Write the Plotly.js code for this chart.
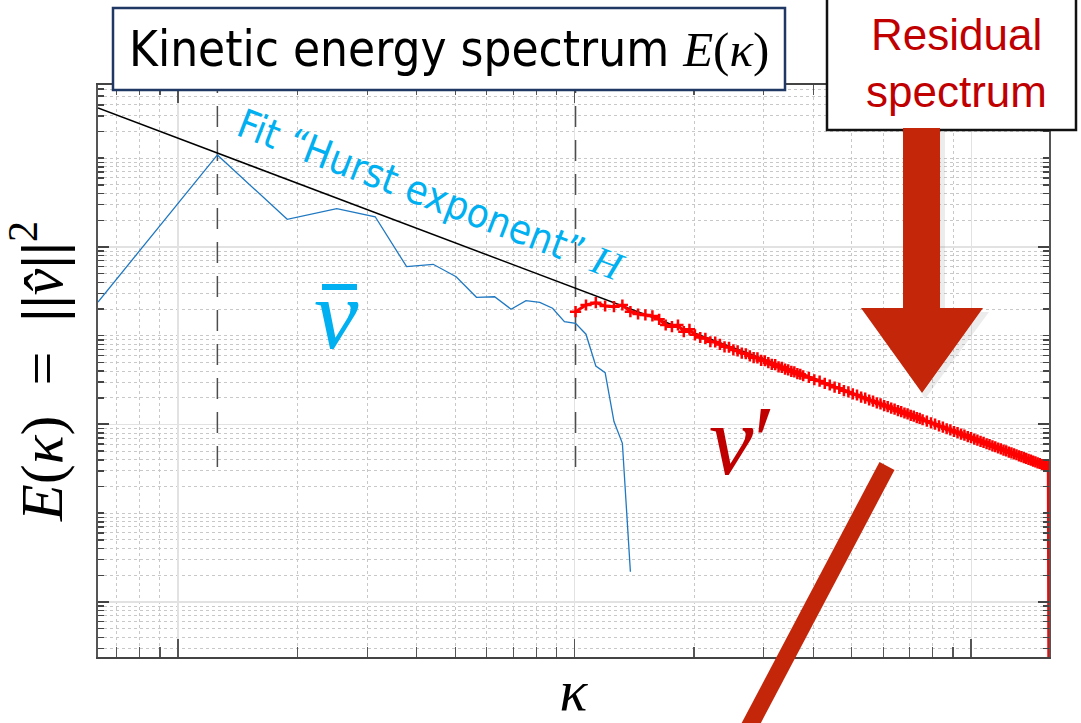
<!DOCTYPE html>
<html><head><meta charset="utf-8">
<script src="https://cdn.plot.ly/plotly-3.0.1.min.js"></script>
<style>html,body{margin:0;padding:0;background:#fff;overflow:hidden}#plot{width:1081px;height:723px}</style>
</head><body><div id="plot"></div>
<script>
// wavenumber step (2*pi/L, L = 10)
const dk = 0.6283185;

// mean-flow spectrum (v-bar): wavenumber index and energy
const meanIndex = [1,2,3,4,5,6,7,8,9,10,11,12,13,14,15,16,17,18,19,20,21,22];
const meanE = [2.40e-5,1.089e-3,2.05e-4,2.70e-4,2.19e-4,6.00e-5,6.38e-5,4.62e-5,2.71e-5,2.75e-5,1.99e-5,2.48e-5,2.38e-5,2.04e-5,1.44e-5,1.38e-5,1.04e-5,4.56e-6,3.84e-6,1.08e-6,6.14e-7,2.19e-8];

// residual spectrum (v'): wavenumber index and log10 of energy
const residIndex = [16,17,18,19,20,21,22,23,24,25,26,27,28,29,30,31,32,33,34,35,36,37,38,39,40,41,42,43,44,45,46,47,48,49,50,51,52,53,54,55,56,57,58,59,60,
62,64,66,68,70,72,74,76,78,80,82,84,86,88,90,92,94,96,98,100,102,104,106,108,110,112,114,116,118,120,
123,126,129,132,135,138,141,144,147,150,153,156,159,162,165,168,171,174,177,180,183,186,189,192,195,198,201,204,207,210,213,216,219,222,225,228,231,234,237,240,243,246,249,250];
const residLog10E = [-4.729,-4.654,-4.628,-4.665,-4.673,-4.654,-4.729,-4.755,-4.766,-4.777,-4.815,-4.879,-4.898,-4.879,-4.954,-4.927,-4.990,-5.020,-5.030,-5.068,-5.071,-5.098,-5.125,-5.130,-5.160,-5.171,-5.196,-5.203,-5.228,-5.247,-5.250,-5.278,-5.282,-5.304,-5.322,-5.326,-5.350,-5.356,-5.377,-5.384,-5.402,-5.407,-5.427,-5.434,-5.451,
-5.470,-5.496,-5.511,-5.538,-5.555,-5.580,-5.593,-5.619,-5.633,-5.656,-5.668,-5.691,-5.704,-5.724,-5.737,-5.756,-5.768,-5.787,-5.798,-5.816,-5.827,-5.845,-5.855,-5.871,-5.881,-5.898,-5.907,-5.923,-5.932,-5.947,
-5.963,-5.982,-5.997,-6.016,-6.029,-6.048,-6.061,-6.079,-6.091,-6.108,-6.121,-6.137,-6.149,-6.164,-6.176,-6.191,-6.201,-6.217,-6.227,-6.241,-6.251,-6.265,-6.275,-6.288,-6.297,-6.311,-6.320,-6.332,-6.341,-6.354,-6.362,-6.374,-6.382,-6.394,-6.402,-6.414,-6.421,-6.433,-6.440,-6.451,-6.458,-6.469,-6.476,-9.5];

// power-law fit ("Hurst exponent")
const fitKappa = [0.6283, 157.08];
const fitE = [3.68e-3, 3.32e-7];

// vertical separators (kappa), drawn from this energy upward
const sepKappa = [1.2566, 10.053];
const sepBottomE = 3.32e-7;
const sepTopE = 0.1;

// texts
const titleText = 'Kinetic energy spectrum ';
const residualLines = ['Residual', 'spectrum'];
const fitLabel = 'Fit “Hurst exponent” ';

const kMean = meanIndex.map(n => n * dk);
const kResid = residIndex.map(n => n * dk);
const eResid = residLog10E.map(v => Math.pow(10, v));

const L = 98, R = 32, T = 85, B = 66, W = 1081 - L - R, H = 723 - T - B;
const px = p => (p - L) / W;
const py = p => (723 - B - p) / H;

const SERIF = 'Liberation Serif, DejaVu Serif, serif';
const NARROW = 'Liberation Sans Narrow, Arial Narrow, DejaVu Sans Condensed, sans-serif';
const SANS = 'Liberation Sans, Arial, sans-serif';
const ARROW = '#C4260A';

const traces = [];
sepKappa.forEach(k => traces.push({
  x: [k, k], y: [sepBottomE, sepTopE], mode: 'lines', type: 'scatter',
  line: {color: '#4d4d4d', width: 1.5, dash: '21px,13px'}, hoverinfo: 'skip', showlegend: false
}));
traces.push({x: kMean, y: meanE, mode: 'lines', type: 'scatter', name: 'mean',
  line: {color: '#1f78c1', width: 1.3}, showlegend: false});
traces.push({x: fitKappa, y: fitE, mode: 'lines', type: 'scatter', name: 'fit',
  line: {color: '#000000', width: 1.5}, showlegend: false});
traces.push({x: kResid, y: eResid, mode: 'lines+markers', type: 'scatter', name: 'residual',
  line: {color: '#ff0000', width: 3},
  marker: {symbol: 'cross-thin', size: 8, color: '#ff0000', line: {color: '#ff0000', width: 2.5}},
  showlegend: false});

function arrowPath() {
  const pts = [[903,128],[940,128],[940,308],[983,308],[922,393],[861,308],[903,308]];
  return 'M' + pts.map(p => px(p[0]).toFixed(4) + ',' + py(p[1]).toFixed(4)).join(' L') + ' Z';
}
function shadowPath() {
  const pts = [[940,132],[945,132],[945,312],[989,312],[925,399],[922,394],[983,308],[940,308]];
  return 'M' + pts.map(p => px(p[0]).toFixed(4) + ',' + py(p[1]).toFixed(4)).join(' L') + ' Z';
}

const shapes = [
  {type: 'rect', xref: 'paper', yref: 'paper', x0: px(113), x1: px(785), y0: py(90), y1: py(8),
   line: {color: '#1F3864', width: 2.5}, fillcolor: '#ffffff', layer: 'above'},
  {type: 'rect', xref: 'paper', yref: 'paper', x0: px(827), x1: px(1076), y0: py(130), y1: py(-6),
   line: {color: '#111111', width: 2.5}, fillcolor: '#ffffff', layer: 'above'},
  {type: 'path', xref: 'paper', yref: 'paper', path: shadowPath(), fillcolor: 'rgba(150,150,150,0.18)',
   line: {width: 0}, layer: 'above'},
  {type: 'path', xref: 'paper', yref: 'paper', path: arrowPath(), fillcolor: ARROW,
   line: {width: 0}, layer: 'above'},
  {type: 'line', xref: 'paper', yref: 'paper', x0: px(887), y0: py(466), x1: px(737), y1: py(750),
   line: {color: ARROW, width: 17}, layer: 'above'},
  {type: 'rect', xref: 'paper', yref: 'paper', x0: px(322), x1: px(357), y0: py(290), y1: py(284),
   line: {width: 0}, fillcolor: '#00B0F0', layer: 'above'}
];

const annotations = [
  {xref: 'paper', yref: 'paper', x: px(127), y: py(50), xanchor: 'left', yanchor: 'middle', showarrow: false,
   text: titleText + '<span style="font-family:Liberation Serif"><i>E</i>(<i>κ</i>)</span>',
   font: {family: NARROW, size: 49, color: '#000'}},
  {xref: 'paper', yref: 'paper', x: px(956), y: py(35), xanchor: 'center', yanchor: 'middle', showarrow: false,
   text: residualLines[0], font: {family: SANS, size: 44, color: '#C00000'}},
  {xref: 'paper', yref: 'paper', x: px(956), y: py(91), xanchor: 'center', yanchor: 'middle', showarrow: false,
   text: residualLines[1], font: {family: SANS, size: 44, color: '#C00000'}},
  {xref: 'paper', yref: 'paper', x: px(431), y: py(195), xanchor: 'center', yanchor: 'middle', showarrow: false,
   textangle: 21,
   text: fitLabel + '<span style="font-family:Liberation Serif"><i>H</i></span>',
   font: {family: NARROW, size: 40, color: '#00B0F0'}},
  {xref: 'paper', yref: 'paper', x: px(336), y: py(314), xanchor: 'center', yanchor: 'middle', showarrow: false,
   text: '<i>v</i>', font: {family: SERIF, size: 100, color: '#00B0F0'}},
  {xref: 'paper', yref: 'paper', x: px(742), y: py(440), xanchor: 'center', yanchor: 'middle', showarrow: false,
   text: '<i>v</i>′', font: {family: SERIF, size: 100, color: '#C00000'}}
];

const layout = {
  width: 1081, height: 723,
  margin: {l: L, r: R, t: T, b: B, pad: 0},
  paper_bgcolor: '#ffffff', plot_bgcolor: '#ffffff',
  showlegend: false,
  xaxis: {
    type: 'log', range: [Math.log10(fitKappa[0]), Math.log10(fitKappa[1])],
    dtick: 1, tick0: 0, showticklabels: false,
    ticks: 'inside', ticklen: 18, tickwidth: 1.5, tickcolor: '#555',
    showgrid: true, gridcolor: '#e2e2e2', gridwidth: 1.2,
    showline: true, linecolor: '#444', linewidth: 2, mirror: 'ticks', zeroline: false,
    minor: {dtick: 'D1', ticks: 'inside', ticklen: 10, tickwidth: 1.2, tickcolor: '#555',
            showgrid: true, gridcolor: '#c8c8c8', griddash: 'dot', gridwidth: 1},
    title: {text: '<i>κ</i>', font: {family: SERIF, size: 58, color: '#000'}, standoff: 29}
  },
  yaxis: {
    type: 'log', range: [-8.62, -2.175],
    dtick: 2, tick0: 0, showticklabels: false,
    ticks: 'inside', ticklen: 11, tickwidth: 2, tickcolor: '#444',
    showgrid: true, gridcolor: '#e2e2e2', gridwidth: 1.2,
    showline: true, linecolor: '#555', linewidth: 2, mirror: 'ticks', zeroline: false,
    minor: {dtick: 'D1', ticks: 'inside', ticklen: 6, tickwidth: 1.5, tickcolor: '#444',
            showgrid: true, gridcolor: '#c8c8c8', griddash: 'dot', gridwidth: 1},
    title: {text: '<i>E</i>(<i>κ</i>)  =  <b>||</b><i>v̂</i><b>||</b><sup>2</sup>', font: {family: SERIF, size: 60, color: '#000'}, standoff: 18}
  },
  shapes: shapes,
  annotations: annotations
};

Plotly.newPlot('plot', traces, layout, {staticPlot: true});
</script>
</body></html>
